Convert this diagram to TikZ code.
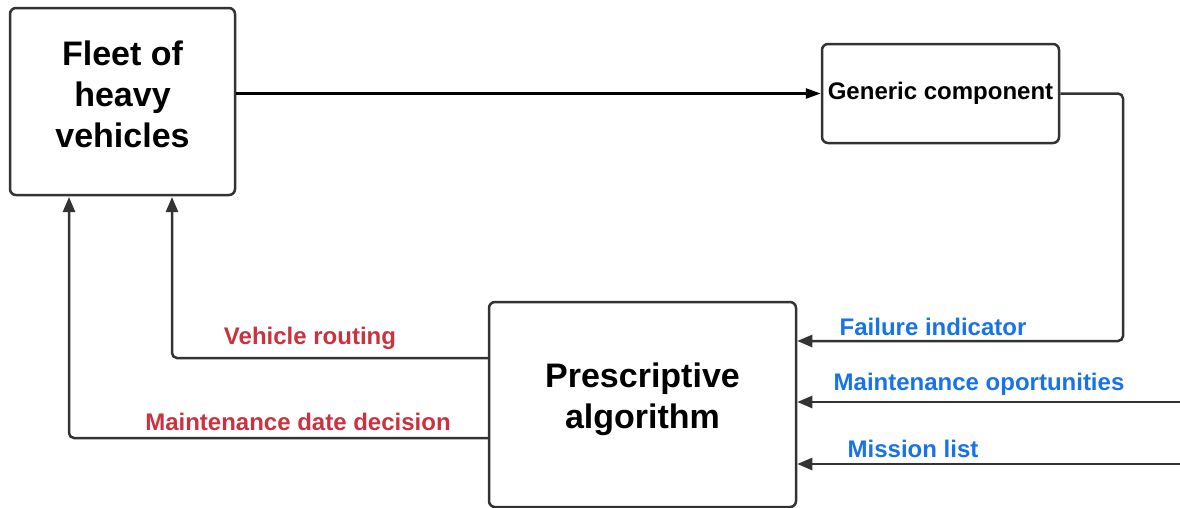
\documentclass[tikz,border=0pt]{standalone}
\usepackage{fontspec}
\setmainfont{Liberation Sans}
\usepackage{xcolor}
\usepackage{tikz}
\usetikzlibrary{arrows.meta}
\usetikzlibrary{positioning}
\usetikzlibrary{calc}
\definecolor{linegray}{RGB}{51,51,51}
\definecolor{outred}{RGB}{201,50,62}
\definecolor{inblue}{RGB}{24,115,230}
\tikzstyle{block}=[rectangle,draw=linegray,line width=2.5pt,rounded corners=6pt,align=center,inner sep=0pt]
\tikzstyle{bigtext}=[font=\fontsize{34}{41}\selectfont\bfseries]
\tikzstyle{midtext}=[font=\fontsize{24}{28}\selectfont\bfseries]
\tikzstyle{flow}=[draw=linegray,line width=2.5pt,rounded corners=5pt,-{Triangle[length=15pt,width=12pt]}]
\tikzstyle{outlabel}=[text=outred,font=\fontsize{24}{28}\selectfont\bfseries,anchor=base,inner sep=0pt]
\tikzstyle{inlabel}=[text=inblue,font=\fontsize{24}{28}\selectfont\bfseries,anchor=base,inner sep=0pt]

\begin{document}
\begin{tikzpicture}[x=1pt,y=-1pt]

 \useasboundingbox (0,0) rectangle (1180,507);

 %blocks
 \node[block,bigtext,minimum width=225pt,minimum height=187pt,text depth=15pt] (fleet) at (122.5,101.5) {Fleet of\\heavy\\vehicles};
 \node[block,midtext,minimum width=237pt,minimum height=99pt] (generic) at (940.5,93.5) {Generic component};
 \node[block,bigtext,minimum width=307pt,minimum height=205pt,text depth=17pt] (algo) at (642.5,404.5) {Prescriptive\\algorithm};

 %fleet to component
 \draw[flow,draw=black,line width=2.5pt,-{Triangle[length=15pt,width=10pt]}] (fleet.east |- generic.west) -- (generic.west);

 %inputs
 \coordinate (fail) at (1123,341);
 \draw[flow] (generic.east) -| (fail) -- (algo.east |- fail);

 \foreach \y/\name in {402/opp, 464/miss}
   {
   \coordinate (\name) at (1180,\y);
   \draw[flow] (\name) -- (algo.east |- \name);
   }

 \node[inlabel] (faillbl) at (933,335) {Failure indicator};
 \node[inlabel] (opplbl) at (979,390) {Maintenance oportunities};
 \node[inlabel] (misslbl) at (913,457) {Mission list};

 %outputs
 \coordinate (routeup) at (172,197);
 \coordinate (dateup) at (69,197);
 \draw[flow] (algo.west |- 0,358) -| (routeup);
 \draw[flow] (algo.west |- 0,438) -| (dateup);

 \node[outlabel] (routelbl) at (310,344) {Vehicle routing};
 \node[outlabel] (datelbl) at (298,430) {Maintenance date decision};

\end{tikzpicture}
\end{document}
